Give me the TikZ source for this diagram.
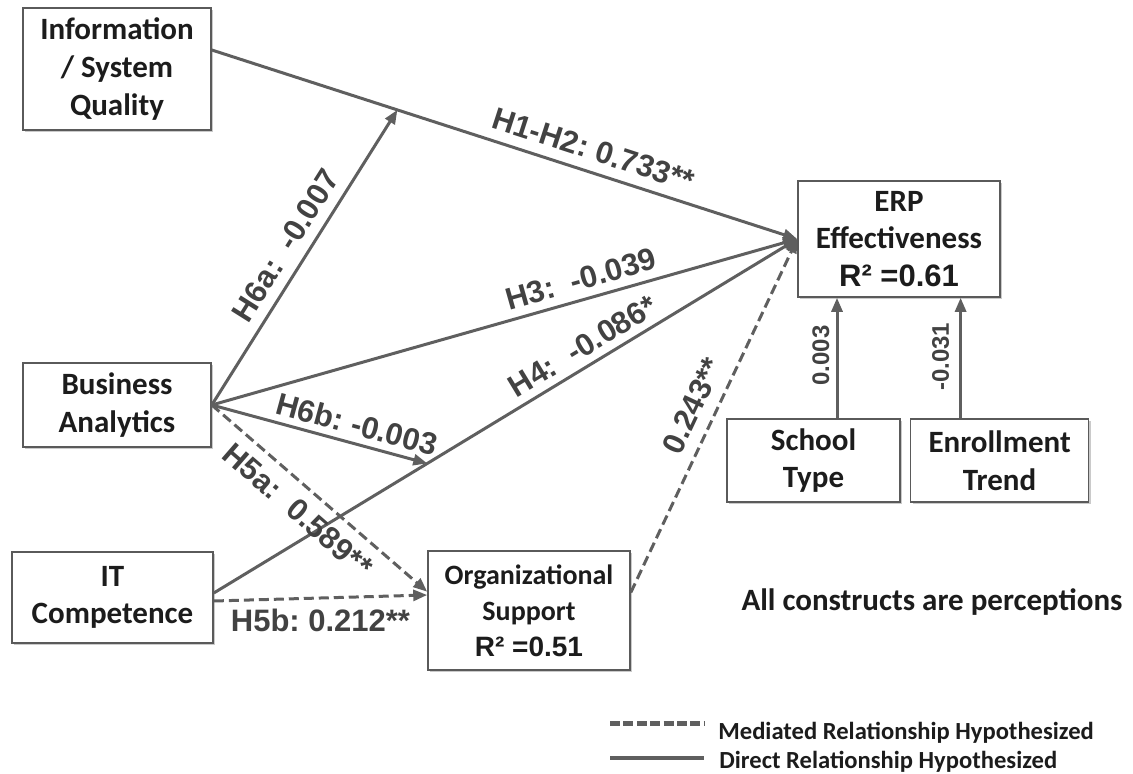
\documentclass[tikz,border=0pt]{standalone}
\usepackage{fontspec}
\setmainfont{Carlito}
\newfontfamily\arialfont{Liberation Sans}
\usetikzlibrary{arrows.meta, positioning, shadows}
\definecolor{linegray}{RGB}{95,95,95}
\definecolor{labgray}{RGB}{66,66,66}
\definecolor{boxgray}{RGB}{90,90,90}
\definecolor{boxtext}{RGB}{28,28,28}

\begin{document}
\frenchspacing
\begin{tikzpicture}[
    x=0.5pt, y=-0.5pt,
    construct/.style={draw=boxgray, line width=0.8pt, fill=white, align=center,
                      font=\fontsize{15.5}{18.8}\selectfont\bfseries, text=boxtext,
                      inner sep=0pt,
                      drop shadow={shadow xshift=1pt, shadow yshift=-1pt,
                                   fill=black!35, opacity=0.6}},
    direct/.style={-{Triangle[length=7pt, width=5.5pt]}, line width=1.5pt, color=linegray},
    mediated/.style={direct, dash pattern=on 5pt off 2.5pt},
    coef/.style={font=\arialfont\bfseries\fontsize{15.5}{18}\selectfont,
                 text=labgray, inner sep=0pt},
    smallcoef/.style={coef, font=\arialfont\bfseries\fontsize{12}{14}\selectfont},
    note/.style={font=\bfseries\fontsize{15.5}{18}\selectfont, text=boxtext},
    legtext/.style={font=\bfseries\fontsize{12.3}{14}\selectfont, text=boxtext,
                    anchor=base west, inner sep=0pt},
  ]
  \useasboundingbox (0,0) rectangle (1133,774);

  % constructs
  \node[construct, minimum width=94pt, minimum height=61pt] (info) at (117,69)
    {Information\\/ System\\Quality};
  \node[construct, minimum width=101pt, minimum height=58pt] (erp) at (899,239)
    {ERP\\Effectiveness\\{\arialfont R² =0.61}};
  \node[construct, minimum width=86.5pt, minimum height=41.5pt] (school) at (813.5,460.5)
    {School\\Type};
  \node[construct, minimum width=89pt, minimum height=41.5pt, right=4.5pt of school] (enroll)
    {Enrollment\\Trend};
  \node[construct, minimum width=94pt, minimum height=42pt] (ba) at (117,405)
    {Business\\Analytics};
  \node[construct, minimum width=100.5pt, minimum height=45.5pt] (itc) at (112.5,597.5)
    {IT\\Competence};
  \node[construct, minimum width=101pt, minimum height=59.5pt,
        font=\fontsize{14}{18}\selectfont\bfseries] (org) at (529,610.5)
    {Organizational\\Support\\{\arialfont R² =0.51}};

  % direct paths
  \draw[direct] ([yshift=9.5pt]info.east) -- coordinate[pos=0.317] (qtip)
    node[coef, sloped, above=5pt, pos=0.64] {H1-H2: 0.733**} (erp.west);
  \draw[direct] (ba.east) -- node[coef, sloped, above=5pt, pos=0.5] {H6a:~~-0.007} (qtip);
  \draw[direct] (ba.east) -- node[coef, sloped, above=4pt, pos=0.64] {H3:~~-0.039} (erp.west);
  \draw[direct] ([yshift=2.25pt]itc.east) -- coordinate[pos=0.366] (ttip)
    node[coef, sloped, above=3.6pt, pos=0.65] {H4:~~-0.086*} (erp.west);
  \draw[direct] (ba.east) -- node[coef, sloped, above=3.3pt, pos=0.65] {H6b: -0.003} (ttip);

  % mediated paths
  \draw[mediated] (ba.east) -- node[coef, sloped, below=5.3pt, pos=0.47] {H5a:~~0.589**}
    ([yshift=9.4pt]org.west);
  \draw[mediated] ([yshift=-1.75pt]itc.east) -- node[coef, below=4.8pt, pos=0.5] {H5b: 0.212**}
    ([yshift=7.75pt]org.west);
  \draw[mediated] ([yshift=9pt]org.east) -- node[coef, sloped, above=5.6pt, pos=0.5] {0.243**}
    (erp.west);

  % controls
  \coordinate (stail) at ([xshift=11.75pt]school.north);
  \coordinate (etail) at ([xshift=-19.5pt]enroll.north);
  \draw[direct] (stail) -- node[smallcoef, sloped, above=3pt, pos=0.52] {0.003} (stail |- erp.south);
  \draw[direct] (etail) -- node[smallcoef, sloped, above=5pt, pos=0.51] {-0.031} (etail |- erp.south);

  \node[note, anchor=base] (allnote) at (932,610) {All constructs are perceptions};

  % legend
  \node[legtext] (medtxt) at (718,739) {Mediated Relationship Hypothesized};
  \node[legtext] (dirtxt) at (719,768) {Direct Relationship Hypothesized};
  \coordinate (medend) at (610,723);
  \coordinate (dirend) at (610,758);
  \draw[linegray, line width=2.5pt, dash pattern=on 5pt off 1.7pt] (medend) -- ++(94,0);
  \draw[linegray, line width=2pt] (dirend) -- ++(94,0);
\end{tikzpicture}
\end{document}
